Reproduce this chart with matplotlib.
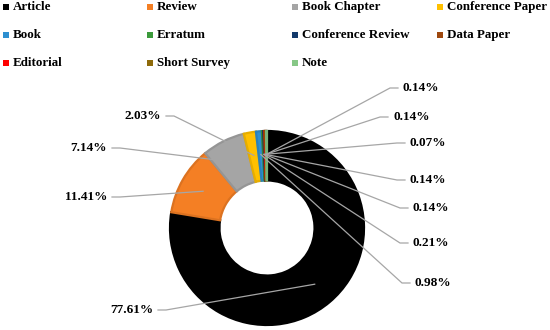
import numpy as np
import matplotlib.pyplot as plt
import matplotlib.colors as mcolors
from matplotlib.patches import Rectangle

plt.rcParams.update({
    'font.family': 'Liberation Serif',
    'font.weight': 'bold',
})

# Document types and their share (%)
categories = ['Article', 'Review', 'Book Chapter', 'Conference Paper', 'Book', 'Erratum',
              'Conference Review', 'Data Paper', 'Editorial', 'Short Survey', 'Note']
shares = [77.61, 11.41, 7.14, 2.03, 0.98, 0.21, 0.14, 0.14, 0.07, 0.14, 0.14]
colors = ['#000000', '#F47F24', '#A5A5A5', '#FFC000', '#2E8FD0', '#3B9A3B',
          '#12396B', '#9E480E', '#FF0000', '#8E6A0A', '#86C786']

# label placement in pixels: (side, x, y) -- 'L' = right-aligned, 'R' = left-aligned
label_side = ['L', 'L', 'L', 'L', 'R', 'R', 'R', 'R', 'R', 'R', 'R']
label_x = [153, 107, 107, 161, 415, 413, 413, 410, 410, 393, 403]
label_y = [310, 197, 148, 116, 283, 243, 208, 180, 143, 117, 88]

# pixel geometry of the donut
CX, CY, R = 267, 228, 97


def px(x, y):
    """pixel position -> data coordinates"""
    return (x - CX) / R, (CY - y) / R


def darker(c, f=0.9):
    r, g, b = mcolors.to_rgb(c)
    return (r * f, g * f, b * f)


fig = plt.figure(figsize=(5.5, 3.3), dpi=100)
ax = fig.add_axes([0, 0, 1, 1])

wedges, _ = ax.pie(shares, colors=colors, startangle=90, counterclock=False, radius=1,
                   wedgeprops=dict(width=0.51, linewidth=1.6))
for w, c in zip(wedges, colors):
    w.set_edgecolor(darker(c))

# leader lines + labels
total = sum(shares)
cum = 0.0
for s, side, lx, ly in zip(shares, label_side, label_x, label_y):
    theta = np.deg2rad(90 - 360 * (cum + s / 2) / total)
    cum += s
    ax_, ay_ = 0.76 * np.cos(theta), 0.76 * np.sin(theta)
    if side == 'L':
        p0, p1 = px(lx + 5, ly), px(lx + 13, ly)
        ha = 'right'
    else:
        p0, p1 = px(lx - 5, ly), px(lx - 13, ly)
        ha = 'left'
    ax.plot([p0[0], p1[0], ax_], [p0[1], p1[1], ay_], color='#A6A6A6', lw=0.9, zorder=3)
    ax.text(*px(lx, ly), f'{s:.2f}%', ha=ha, va='center', fontsize=9.5, fontweight='bold')

# legend, 4 columns x 3 rows
col_x = [3, 147, 292, 437]
row_y = [7, 35, 63]
for i, (cat, c) in enumerate(zip(categories, colors)):
    mx, my = col_x[i % 4], row_y[i // 4]
    ax.add_patch(Rectangle(px(mx, my + 3), 6 / R, 6 / R, color=c, lw=0))
    ax.text(*px(mx + 10, my), cat, ha='left', va='center', fontsize=9.4, fontweight='bold')

ax.set_xlim(-CX / R, (550 - CX) / R)
ax.set_ylim((CY - 330) / R, CY / R)
ax.axis('off')

fig.savefig('out.png', dpi=100)
